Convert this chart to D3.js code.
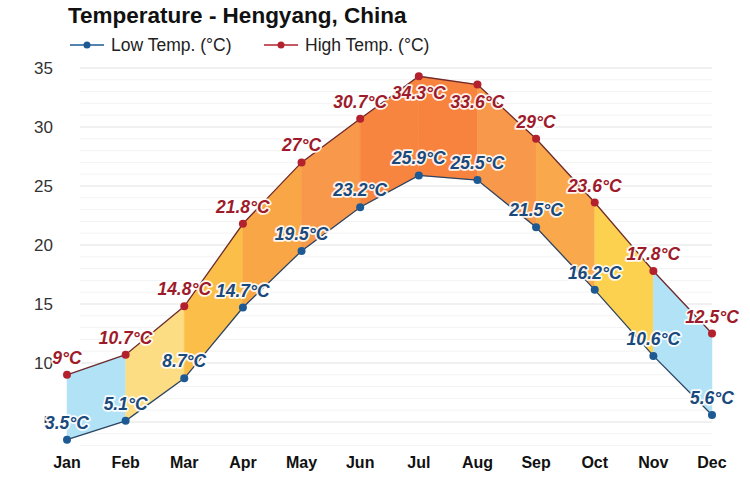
<!DOCTYPE html>
<html><head><meta charset="utf-8">
<script src="https://cdn.jsdelivr.net/npm/d3@7"></script>
<style>body{margin:0;background:#fff}svg{display:block}</style>
</head><body>
<svg id="c" width="750" height="500"></svg>
<script>
const months = ["Jan","Feb","Mar","Apr","May","Jun","Jul","Aug","Sep","Oct","Nov","Dec"];
const lowTemps = [3.5,5.1,8.7,14.7,19.5,23.2,25.9,25.5,21.5,16.2,10.6,5.6];
const highTemps = [9,10.7,14.8,21.8,27,30.7,34.3,33.6,29,23.6,17.8,12.5];
const yTicks = [5,10,15,20,25,30,35];
const segColors = ["#b2e2f6","#fddd84","#fbbf49","#f9a746","#f8984a","#f7853f","#f7833e","#f8984a","#f9a84b","#fdd150","#b2e2f6"];

const svg = d3.select("#c");
const x = d3.scalePoint().domain(months).range([67,712]);
const y = d3.scaleLinear().domain([0,40]).range([481,9]);
const FF = "Liberation Sans, Arial, sans-serif";

// grid
const minor = d3.range(3,36);
svg.append("g").selectAll("line").data(minor).join("line")
  .attr("x1",80).attr("x2",712).attr("y1",d=>y(d)).attr("y2",d=>y(d))
  .attr("stroke",d=>d%5===0?"#e2e2e2":"#f3f3f3").attr("stroke-width",1);

// y labels
svg.append("g").selectAll("text").data(yTicks).join("text")
  .attr("x",53).attr("y",d=>y(d)+6).attr("text-anchor","end")
  .attr("font-family",FF).attr("font-size",17).attr("fill","#333")
  .text(d=>d);

// x labels
svg.append("g").selectAll("text").data(months).join("text")
  .attr("x",d=>x(d)).attr("y",468).attr("text-anchor","middle")
  .attr("font-family",FF).attr("font-size",16).attr("font-weight","bold").attr("fill","#111")
  .text(d=>d);

// segments
const segs = d3.range(months.length-1);
svg.append("g").selectAll("path").data(segs).join("path")
  .attr("d",i=>{
    const x0=x(months[i]), x1=x(months[i+1]);
    return `M${x0},${y(highTemps[i])}L${x1},${y(highTemps[i+1])}L${x1},${y(lowTemps[i+1])}L${x0},${y(lowTemps[i])}Z`;
  })
  .attr("fill",i=>segColors[i]).attr("stroke",i=>segColors[i]).attr("stroke-width",0.5);

const line = d3.line().x((d,i)=>x(months[i])).y(d=>y(d));
svg.append("path").datum(highTemps).attr("d",line).attr("fill","none").attr("stroke","#6e2a2e").attr("stroke-width",1.3);
svg.append("path").datum(lowTemps).attr("d",line).attr("fill","none").attr("stroke","#2c4563").attr("stroke-width",1.3);

svg.append("g").selectAll("circle").data(highTemps).join("circle")
  .attr("cx",(d,i)=>x(months[i])).attr("cy",d=>y(d)).attr("r",4).attr("fill","#b3202e");
svg.append("g").selectAll("circle").data(lowTemps).join("circle")
  .attr("cx",(d,i)=>x(months[i])).attr("cy",d=>y(d)).attr("r",4).attr("fill","#1d5a94");

function labelY(d){ const py = y(d); return py < 90 ? py + 23 : py - 11; }
function labels(data,color){
  const g = svg.append("g");
  g.selectAll("text.h").data(data).join("text").attr("class","h")
    .attr("x",(d,i)=>x(months[i])).attr("y",labelY).attr("text-anchor","middle")
    .attr("font-family",FF).attr("font-size",17.5).attr("font-weight","bold").attr("font-style","italic")
    .attr("fill","none").attr("stroke","#fff").attr("stroke-width",3.5).attr("stroke-linejoin","round").attr("opacity",0.9)
    .text(d=>d+"°C");
  g.selectAll("text.t").data(data).join("text").attr("class","t")
    .attr("x",(d,i)=>x(months[i])).attr("y",labelY).attr("text-anchor","middle")
    .attr("font-family",FF).attr("font-size",17.5).attr("font-weight","bold").attr("font-style","italic")
    .attr("fill",color)
    .text(d=>d+"°C");
}
labels(highTemps,"#9e1b2b");
labels(lowTemps,"#1a4a7c");

// title
svg.append("text").attr("x",68).attr("y",23).attr("font-family",FF)
  .attr("font-size",22.5).attr("font-weight","bold").attr("fill","#111").text("Temperature - Hengyang, China");

// legend
const leg = [{label:"Low Temp. (°C)",color:"#1d5a94",x0:70},{label:"High Temp. (°C)",color:"#b3202e",x0:264}];
const lg = svg.append("g").selectAll("g").data(leg).join("g");
lg.append("line").attr("x1",d=>d.x0).attr("x2",d=>d.x0+34).attr("y1",45).attr("y2",45).attr("stroke",d=>d.color).attr("stroke-width",1.5);
lg.append("circle").attr("cx",d=>d.x0+17).attr("cy",45).attr("r",3.5).attr("fill",d=>d.color);
lg.append("text").attr("x",d=>d.x0+41).attr("y",51).attr("font-family",FF)
  .attr("font-size",17.5).attr("fill","#222").text(d=>d.label);
</script>
</body></html>
